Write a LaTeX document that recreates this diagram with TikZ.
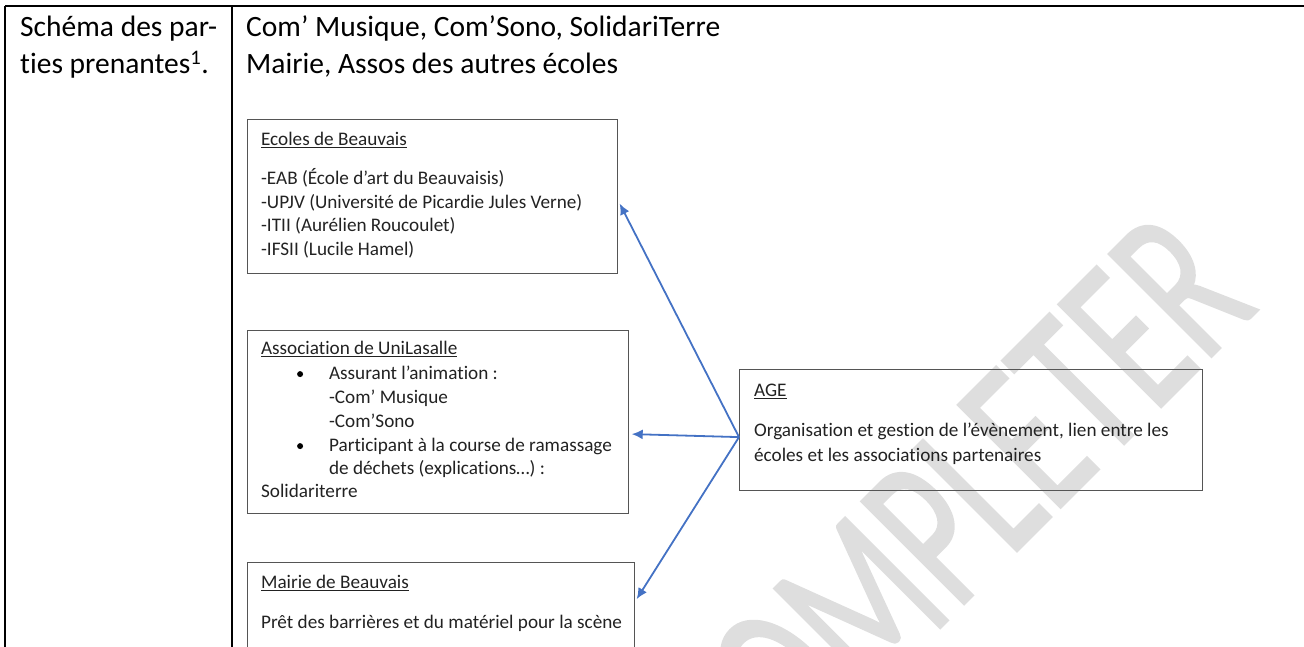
\documentclass[tikz,border=0pt]{standalone}
\usepackage{fontspec}
\setmainfont[Ligatures=CommonOff]{Carlito}
\newfontfamily\markfont[FakeBold=1.2]{Carlito}
\newcommand{\tl}[2]{\vbox to 0pt{\vskip #1pt\hbox{\smash{#2}}\vss}}
\newcommand{\bul}{\hbox to 0pt{\hskip 36pt\raisebox{2.5pt}{\tikz\fill[black] (0,0) circle (3pt);}\hss}}
\newcommand{\boxtext}[3]{\vbox to #2pt{\hsize=#1pt\offinterlineskip\hbox to #1pt{\hfil}#3\vss}}
\definecolor{arrowblue}{HTML}{4472C4}
\definecolor{boxgray}{HTML}{555555}
\definecolor{markgray}{HTML}{DEDEDE}
\definecolor{ink}{HTML}{222222}
\usetikzlibrary{arrows.meta}
\tikzset{
  partbox/.style={draw=boxgray,line width=1.2pt,anchor=north west,inner sep=0pt,font=\fontsize{19.2pt}{22pt}\selectfont,text=ink},
  link/.style={draw=arrowblue,line width=1.8pt,-{Latex[length=11pt,width=10pt]}},
  rule/.style={draw=black,line width=2pt},
  big/.style={anchor=base west,inner sep=0pt,font=\fontsize{29.5pt}{32pt}\selectfont,text=black},
  watermark/.style={anchor=base east,inner sep=0pt,rotate=45,text=markgray,font=\markfont\fontsize{226pt}{240pt}\selectfont}
}
\begin{document}
\begin{tikzpicture}[x=1pt,y=-1pt]
\useasboundingbox (0,0) rectangle (1304,647);
\begin{scope}
\clip (0,0) rectangle (1304,647);
\node[watermark] (mark) at (1260,308) {\scalebox{0.645}[1]{OMPLETER}};
\end{scope}
% table
\coordinate (tl) at (5,6); \coordinate (tr) at (1304,6);
\coordinate (bl) at (5,647); \coordinate (ml) at (232,6); \coordinate (mb) at (232,647);
\draw[rule] (tl) -- (tr); \draw[rule] (tl) -- (bl); \draw[rule] (ml) -- (mb);
\node[big] (h1) at (20,37) {Schéma des par-};
\node[big] (h2) at (20,74) {ties prenantes\textsuperscript{1}.};
\node[big] (c1) at (246,37) {Com’ Musique, Com’Sono, SolidariTerre};
\node[big] (c2) at (246,74) {Mairie, Assos des autres écoles};
% boxes
\node[partbox] (ecoles) at (247,119) {\hskip 13.5pt\boxtext{356}{154}{%
  \tl{26}{\underline{Ecoles de Beauvais}}
  \tl{65}{-EAB (École d'art du Beauvaisis)}
  \tl{89}{-UPJV (Université de Picardie Jules Verne)}
  \tl{112}{-ITII (Aurélien Roucoulet)}
  \tl{136}{-IFSII (Lucile Hamel)}}};
\node[partbox] (assoc) at (247,330) {\hskip 13.5pt\boxtext{367}{183}{%
  \tl{24}{\underline{Association de UniLasalle}}
  \tl{49}{\bul\hskip 68pt Assurant l’animation :}
  \tl{73}{\hskip 68pt -Com’ Musique}
  \tl{97}{\hskip 68pt -Com’Sono}
  \tl{121}{\bul\hskip 68pt Participant à la course de ramassage}
  \tl{144}{\hskip 68pt de déchets (explications…) :}
  \tl{167}{Solidariterre}}};
\node[partbox] (mairie) at (247,562) {\hskip 13.5pt\boxtext{373}{85}{%
  \tl{26}{\underline{Mairie de Beauvais}}
  \tl{66}{Prêt des barrières et du matériel pour la scène}}};
\node[partbox] (age) at (739,369) {\hskip 14.5pt\boxtext{448}{121}{%
  \tl{27}{\underline{AGE}}
  \tl{67}{Organisation et gestion de l’évènement, lien entre les}
  \tl{92}{écoles et les associations partenaires}}};
% connectors
\coordinate (apex) at ([yshift=-7pt]age.west);
\path[link] (apex) -- ([shift={(2pt,-7pt)}]ecoles.east);
\path[link] (apex) -- ([shift={(3pt,-12pt)}]assoc.east);
\path[link] (apex) -- ([shift={(2pt,6pt)}]mairie.east);
\end{tikzpicture}
\end{document}
